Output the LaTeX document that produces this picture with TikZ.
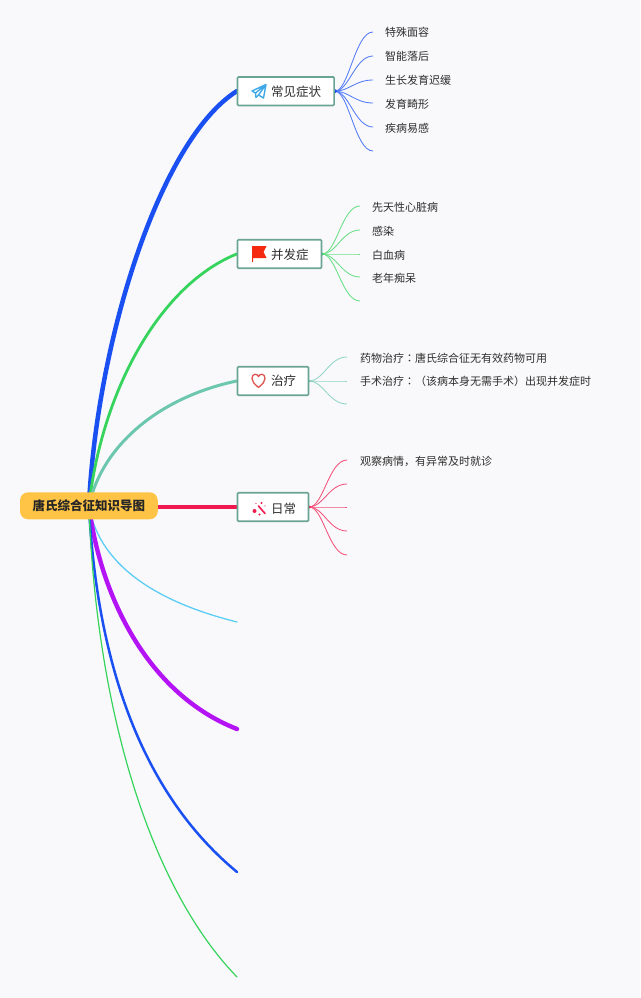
\documentclass[tikz,border=0pt]{standalone}
\usepackage{fontspec}
\setmainfont{Noto Sans CJK SC}
\newfontfamily\tcfont{Noto Sans CJK TC}
\usetikzlibrary{backgrounds}
\definecolor{bgc}{HTML}{F9F9FB}
\definecolor{cblue}{HTML}{1A50F2}
\definecolor{cgreen}{HTML}{36D45C}
\definecolor{cteal}{HTML}{6CC7AE}
\definecolor{cred}{HTML}{F0194F}
\definecolor{csky}{HTML}{5CCDF5}
\definecolor{cpurple}{HTML}{B414F5}
\definecolor{boxline}{HTML}{6AA594}
\definecolor{txt}{HTML}{2E2E2E}
\definecolor{rootc}{HTML}{FFC445}
\definecolor{heartc}{HTML}{DC5550}
\definecolor{flagc}{HTML}{F5290F}
\definecolor{planec}{HTML}{3FA9E8}
\tikzset{
 x=1pt,y=-1pt,
 rootbox/.style={draw=none,fill=rootc,rounded corners=8pt,minimum width=137.7pt,minimum height=27pt,inner sep=0pt,font=\fontsize{12.5}{14}\selectfont\bfseries,text=black!85},
 topicbox/.style={draw=boxline,line width=1.6pt,fill=white,rounded corners=1pt,minimum height=28.5pt,inner sep=0pt,anchor=west},
 topictext/.style={font=\fontsize{12.5}{14}\selectfont,text=txt,anchor=west,inner sep=0pt},
 leaf/.style={font=\fontsize{11}{13}\selectfont,text=txt,anchor=west,inner sep=0pt},
 branch/.style={line cap=round},
 twig/.style={line width=.85pt,draw=#1!75!white},
}
\begin{document}
\begin{tikzpicture}
\useasboundingbox (0,0) rectangle (640,998);
\node[rootbox] (root) at (88.9,505.8) {唐氏综合征知识导图};
\node[topicbox,minimum width=96.6pt] (b1) at (236.7,91.2) {};
\node[topictext] (b1t) at (271,91.5) {常见症状};
\node[topicbox,minimum width=84pt] (b2) at (236.7,254) {};
\node[topictext] (b2t) at (271,254.5) {并发症};
\node[topicbox,minimum width=71pt] (b3) at (236.7,381) {};
\node[topictext] (b3t) at (271,381) {治疗};
\node[topicbox,minimum width=71pt] (b4) at (236.7,507) {};
\node[topictext] (b4t) at (271,508.5) {日常};
% free ends
\coordinate (e5) at (237,622);
\coordinate (e6) at (237,729);
\coordinate (e7) at (237,872);
\coordinate (e8) at (237,977);
% leaves
\node[leaf] (a1) at (385,32.5) {特殊面容};
\node[leaf] (a2) at (385,56.5) {智能落后};
\node[leaf] (a3) at (385,80.5) {生长发育迟缓};
\node[leaf] (a4) at (385,104) {发育畸形};
\node[leaf] (a5) at (385,128) {疾病易感};
\coordinate (a1e) at (373,32); \coordinate (a2e) at (373,56); \coordinate (a3e) at (373,80);
\coordinate (a4e) at (373,103); \coordinate (a5e) at (373,127); \coordinate (a6e) at (373,151);
\node[leaf] (c1) at (372,207.5) {先天性心脏病};
\node[leaf] (c2) at (372,231) {感染};
\node[leaf] (c3) at (372,255) {白血病};
\node[leaf] (c4) at (372,278.5) {老年痴呆};
\coordinate (c1e) at (360,206); \coordinate (c2e) at (360,230); \coordinate (c3e) at (360,254);
\coordinate (c4e) at (360,277); \coordinate (c5e) at (360,301);
\node[leaf] (d1) at (360,358) {药物治疗{\tcfont ：}唐氏综合征无有效药物可用};
\node[leaf] (d2) at (360,381.5) {手术治疗{\tcfont ：}（该病本身无需手术）出现并发症时};
\coordinate (d1e) at (347,357); \coordinate (d2e) at (347,381); \coordinate (d3e) at (347,404);
\node[leaf] (f1) at (360,461) {观察病情，有异常及时就诊};
\coordinate (f1e) at (347,460); \coordinate (f2e) at (347,484); \coordinate (f3e) at (347,507);
\coordinate (f4e) at (347,531); \coordinate (f5e) at (347,555);
\begin{scope}[on background layer]
\fill[bgc] (0,0) rectangle (640,998);
\draw[branch,cblue,line width=4.5pt] (root.center) .. controls (97,340) and (160,140) .. (b1.west);
\draw[branch,cgreen,line width=2.8pt] (root.center) .. controls (102,390) and (160,285) .. (b2.west);
\draw[branch,cteal,line width=3pt] (root.center) .. controls (102,445) and (160,397) .. (b3.west);
\draw[branch,cred,line width=3.2pt] (root.east |- b4.west) -- (b4.west);
\draw[branch,csky,line width=1.3pt] (root.center) .. controls (100,570) and (165,604) .. (e5);
\draw[branch,cpurple,line width=4.4pt] (root.center) .. controls (101,600) and (150,695) .. (e6);
\draw[branch,cblue,line width=2.5pt] (root.center) .. controls (98,680) and (150,800) .. (e7);
\draw[branch,cgreen,line width=1.2pt] (root.center) .. controls (96,705) and (148,885) .. (e8);
\foreach \t in {a1e,a2e,a3e,a4e,a5e,a6e}
  \draw[twig=cblue] (b1.east) .. controls +(14,0) and +(-18,0) .. (\t);
\foreach \t in {c1e,c2e,c3e,c4e,c5e}
  \draw[twig=cgreen] (b2.east) .. controls +(14,0) and +(-18,0) .. (\t);
\foreach \t in {d1e,d2e,d3e}
  \draw[twig=cteal] (b3.east) .. controls +(14,0) and +(-18,0) .. (\t);
\foreach \t in {f1e,f2e,f3e,f4e,f5e}
  \draw[twig=cred] (b4.east) .. controls +(14,0) and +(-18,0) .. (\t);
\fill[cblue] (b1.east) circle (2pt);
\fill[cgreen] (b2.east) circle (1.5pt);
\fill[cteal] (b3.east) circle (1.2pt);
\fill[cred] (b4.east) circle (1.5pt);
\end{scope}
% icons
\draw[planec,line width=1.4pt,line join=round] (252,91) -- (266,84.5) -- (263.5,98) -- (258.5,95) -- (256,97.5) -- (255.5,93) -- cycle (255.5,93) -- (266,84.5) -- (258.5,95);
\fill[flagc] (252,246) -- (266.5,246) -- (263.5,252) -- (266.5,258) -- (253.2,258) -- (253.2,262) -- (252,262) -- cycle;
\draw[heartc,line width=1.3pt,line join=round] (258.5,387.5) .. controls (254,383.5) and (252,381.5) .. (252,378.5) .. controls (252,373.5) and (257,373) .. (258.5,376.5) .. controls (260,373) and (265,373.5) .. (265,378.5) .. controls (265,381.5) and (263,383.5) .. (258.5,387.5) -- cycle;
\draw[cred,line width=1.6pt,line cap=round] (258.5,506) -- (265,513.5);
\fill[cred] (254.5,511) circle (2pt) (259.5,514.5) circle (1.1pt) (261.5,503) circle (1.1pt) (256,503.5) circle (.7pt) (265,506) circle (.7pt);
\end{tikzpicture}
\end{document}
